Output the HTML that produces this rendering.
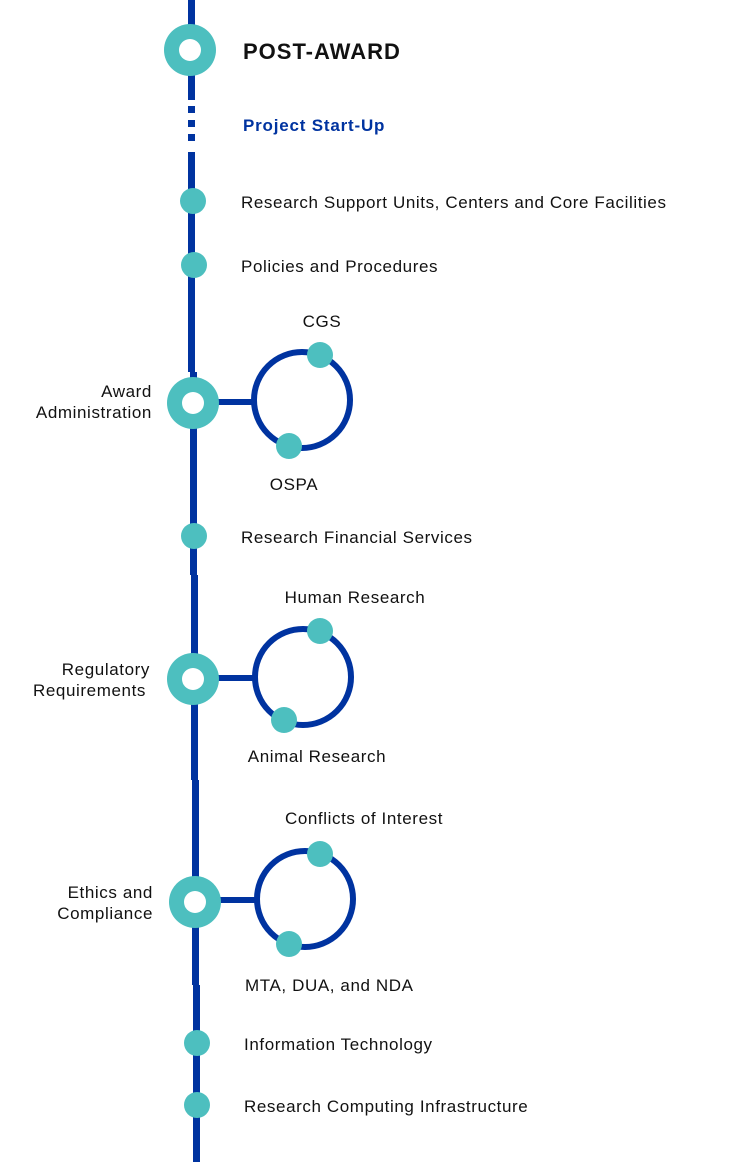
<!DOCTYPE html>
<html><head><meta charset="utf-8"><style>
html,body{margin:0;padding:0;background:#fff;}
svg{display:block;}
text{font-family:"Liberation Sans",sans-serif;fill:#111;font-size:17px;letter-spacing:0.6px;}
</style></head><body>
<svg width="750" height="1162" viewBox="0 0 750 1162">
<g fill="#0033a0">
<rect x="188" y="0" width="7" height="100"/>
<rect x="188" y="106" width="7" height="7"/>
<rect x="188" y="120" width="7" height="7"/>
<rect x="188" y="134" width="7" height="7"/>
<rect x="188" y="152" width="7" height="220"/>
<rect x="190" y="372" width="7" height="203"/>
<rect x="191" y="575" width="7" height="205"/>
<rect x="192" y="780" width="7" height="205"/>
<rect x="193" y="985" width="7" height="177"/>
</g>
<g fill="none" stroke="#0033a0" stroke-width="6">
<line x1="215" y1="402" x2="256" y2="402"/>
<circle cx="302" cy="400" r="48"/>
<line x1="215" y1="678" x2="257" y2="678"/>
<circle cx="303" cy="677" r="48"/>
<line x1="217" y1="900" x2="259" y2="900"/>
<circle cx="305" cy="899" r="48"/>
</g>
<g fill="#4dbfbf">
<circle cx="190" cy="50" r="26"/>
<circle cx="193" cy="403" r="26"/>
<circle cx="193" cy="679" r="26"/>
<circle cx="195" cy="902" r="26"/>
<circle cx="193" cy="201" r="13"/>
<circle cx="194" cy="265" r="13"/>
<circle cx="194" cy="536" r="13"/>
<circle cx="197" cy="1043" r="13"/>
<circle cx="197" cy="1105" r="13"/>
<circle cx="320" cy="355" r="13"/>
<circle cx="289" cy="446" r="13"/>
<circle cx="320" cy="631" r="13"/>
<circle cx="284" cy="720" r="13"/>
<circle cx="320" cy="854" r="13"/>
<circle cx="289" cy="944" r="13"/>
</g>
<g fill="#fff">
<circle cx="190" cy="50" r="11"/>
<circle cx="193" cy="403" r="11"/>
<circle cx="193" cy="679" r="11"/>
<circle cx="195" cy="902" r="11"/>
</g>
<text x="243" y="59" style="font-size:22px;font-weight:bold;letter-spacing:1px">POST-AWARD</text>
<text x="243" y="131" style="font-weight:bold;fill:#0033a0;letter-spacing:0.8px">Project Start-Up</text>
<text x="241" y="208">Research Support Units, Centers and Core Facilities</text>
<text x="241" y="272">Policies and Procedures</text>
<text x="322" y="327" text-anchor="middle">CGS</text>
<text x="152" y="397" text-anchor="end">Award</text>
<text x="152" y="418" text-anchor="end">Administration</text>
<text x="294" y="490" text-anchor="middle">OSPA</text>
<text x="241" y="543">Research Financial Services</text>
<text x="355" y="603" text-anchor="middle">Human Research</text>
<text x="150" y="675" text-anchor="end">Regulatory</text>
<text x="146" y="696" text-anchor="end">Requirements</text>
<text x="317" y="762" text-anchor="middle">Animal Research</text>
<text x="364" y="824" text-anchor="middle">Conflicts of Interest</text>
<text x="153" y="898" text-anchor="end">Ethics and</text>
<text x="153" y="919" text-anchor="end">Compliance</text>
<text x="245" y="991">MTA, DUA, and NDA</text>
<text x="244" y="1050">Information Technology</text>
<text x="244" y="1112">Research Computing Infrastructure</text>
</svg>
</body></html>
